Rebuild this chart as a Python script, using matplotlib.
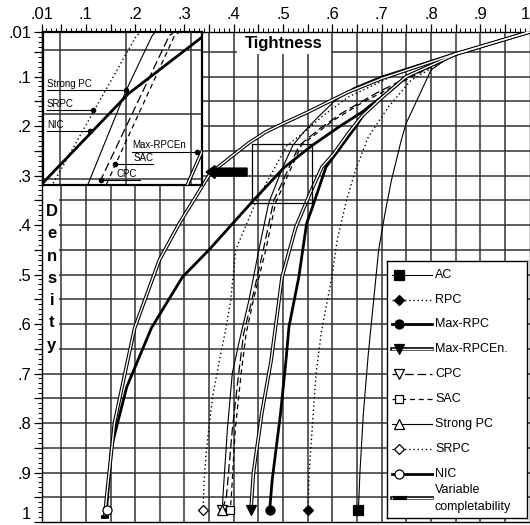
#!/usr/bin/env python3
"""Tightness vs density transition curves for several local consistencies."""

import matplotlib
matplotlib.use("Agg")
import matplotlib.pyplot as plt
import numpy as np
from matplotlib.patches import Rectangle, FancyArrow

plt.rcParams["font.family"] = ["Liberation Sans", "DejaVu Sans"]

# --- data: tightness (x) and density (y) per curve ---
ac_t = [1.0, .92, .835, .80, .775, .75, .74, .72, .708, .694, .684, .673, .663, .656, .653]
ac_d = [.01, .035, .062, .087, .141, .194, .228, .309, .37, .45, .55, .66, .78, .90, .975]

rpc_t = [1.0, .85, .76, .714, .673, .647, .629, .61, .599, .578, .567, .559, .553, .551]
rpc_d = [.01, .055, .107, .161, .222, .289, .349, .43, .505, .615, .70, .814, .90, .975]

maxrpc_t = [1.0, .85, .75, .72, .673, .647, .613, .587, .559, .548, .532, .512, .506, .495, .478, .473]
maxrpc_d = [.01, .055, .10, .127, .162, .202, .248, .283, .366, .396, .505, .606, .673, .78, .915, .975]

maxrpcen_t = [1.0, .85, .75, .70, .66, .633, .603, .579, .558, .542, .526, .498, .476, .457, .44, .435]
maxrpcen_d = [.01, .055, .10, .143, .18, .214, .256, .283, .329, .366, .404, .505, .673, .78, .90, .975]

cpc_t = [1.0, .85, .69, .619, .575, .533, .481, .46, .437, .42, .41, .397, .385, .377]
cpc_d = [.01, .053, .133, .174, .205, .239, .351, .45, .551, .62, .70, .814, .95, .975]

sac_t = [1.0, .85, .66, .60, .537, .485, .465, .44, .425, .415, .403, .395, .393]
sac_d = [.01, .055, .153, .19, .239, .355, .45, .551, .62, .70, .814, .95, .975]

strongpc_t = [1.0, .85, .698, .643, .603, .569, .542, .520, .500, .471, .451, .431, .41, .397, .387, .378, .377]
strongpc_d = [.01, .052, .10, .123, .151, .184, .212, .239, .282, .355, .45, .551, .64, .70, .814, .95, .975]

srpc_t = [1.0, .86, .72, .633, .58, .54, .508, .476, .444, .404, .394, .384, .371, .357, .345, .340, .338]
srpc_d = [.01, .05, .10, .141, .18, .215, .239, .297, .355, .45, .551, .61, .673, .747, .85, .915, .975]

nic_t = [1.0, .85, .75, .70, .66, .613, .558, .502, .441, .350, .296, .233, .183, .152, .142]
nic_d = [.01, .055, .10, .142, .172, .202, .240, .284, .349, .450, .505, .608, .727, .848, .975]

varcomp_t = [1.0, .85, .70, .633, .55, .50, .465, .431, .391, .352, .29, .249, .199, .185, .158, .142, .138]
varcomp_d = [.01, .054, .104, .131, .172, .195, .212, .234, .265, .296, .396, .471, .608, .673, .80, .95, .99]

labels = ["AC", "RPC", "Max-RPC", "Max-RPCEn.", "CPC", "SAC",
          "Strong PC", "SRPC", "NIC", "Variable completability"]
series_t = [ac_t, rpc_t, maxrpc_t, maxrpcen_t, cpc_t, sac_t,
            strongpc_t, srpc_t, nic_t, varcomp_t]
series_d = [ac_d, rpc_d, maxrpc_d, maxrpcen_d, cpc_d, sac_d,
            strongpc_d, srpc_d, nic_d, varcomp_d]

DOT = (0, (1, 2))
STYLES = [
    dict(lw=0.8, ls="-", marker="s", ms=6.5, mfc="k"),
    dict(lw=1.0, ls=DOT, marker="D", ms=5, mfc="k"),
    dict(lw=2.0, ls="-", marker="o", ms=6.5, mfc="k"),
    dict(double=True, marker="v", ms=7, mfc="k"),
    dict(lw=0.9, ls=(0, (7, 3)), marker="v", ms=6.5, mfc="white"),
    dict(lw=0.9, ls=(0, (4, 3)), marker="s", ms=6, mfc="white"),
    dict(lw=0.8, ls="-", marker="^", ms=6.5, mfc="white"),
    dict(lw=1.0, ls=DOT, marker="D", ms=5, mfc="white"),
    dict(lw=2.0, ls="-", marker="o", ms=6.5, mfc="white"),
    dict(double=True, marker="_", ms=5.5, mfc="k", mew=2.6),
]

W, H = 530, 525
GRID = "#333333"


def fig_box(x0, y0, x1, y1):
    # pixel box measured from the top-left -> figure fraction rect
    return [x0 / W, 1 - y1 / H, (x1 - x0) / W, (y1 - y0) / H]


def draw_curve(ax, t, d, st):
    if st.get("double"):
        ax.plot(t, d, color="k", lw=2.6, zorder=3)
        ax.plot(t, d, color="white", lw=1.0, zorder=3.1)
    else:
        ax.plot(t, d, color="k", lw=st["lw"], ls=st["ls"], zorder=3)
    ax.plot(t[-1], d[-1], ls="none", marker=st["marker"], ms=st["ms"],
            mfc=st["mfc"], mec="k", mew=st.get("mew", 0.9), zorder=5)


def tick_label(v):
    if abs(v - 0.01) < 1e-9:
        return ".01"
    if abs(v - 1.0) < 1e-9:
        return "1"
    if round(v * 100) % 10 == 0:
        return "." + str(int(round(v * 10)))
    return ""


fig = plt.figure(figsize=(W / 100, H / 100), dpi=100)

# main axes
ax = fig.add_axes(fig_box(41.5, 32, 529.5, 522))
ax.set_xlim(0.01, 1.0)
ax.set_ylim(1.0, 0.01)

major = [0.01] + list(np.round(np.arange(0.05, 1.0001, 0.05), 2))
minor = np.round(np.arange(0.01, 1.0001, 0.01), 2)
ax.set_xticks(major)
ax.set_xticklabels([tick_label(v) for v in major])
ax.set_yticks(major)
ax.set_yticklabels([tick_label(v) for v in major])
ax.set_xticks(minor, minor=True)
ax.set_yticks(minor, minor=True)
ax.xaxis.set_ticks_position("top")
ax.tick_params(axis="x", which="both", top=True, bottom=False,
               labeltop=True, labelbottom=False, direction="out")
ax.tick_params(axis="y", which="both", left=True, right=False, direction="out")
ax.tick_params(which="major", length=6, width=0.9, labelsize=12, pad=1.5)
ax.tick_params(which="minor", length=3, width=0.7)
# keep the two "1" labels inside the figure
ax.get_xticklabels()[-1].set_horizontalalignment("right")
ax.get_yticklabels()[-1].set_verticalalignment("bottom")
for s in ax.spines.values():
    s.set_linewidth(1.0)

for v in np.arange(0.05, 0.96, 0.05):
    ax.axvline(v, color=GRID, lw=1.1, zorder=1)
    ax.axhline(v, color=GRID, lw=1.1, zorder=1)

for t, d, st in zip(series_t, series_d, STYLES):
    draw_curve(ax, t, d, st)

# zoom rectangle and arrow toward the inset
ax.add_patch(Rectangle((0.437, 0.236), 0.121, 0.119, fill=False,
                       ec="k", lw=0.9, zorder=4))
ax.add_patch(FancyArrow(0.427, 0.293, -0.083, 0, width=0.016,
                        head_width=0.026, head_length=0.018,
                        length_includes_head=True, color="k", zorder=6))

# axis titles on white patches
ax.add_patch(Rectangle((0.407, 0.01), 0.19, 0.044, fc="white", ec="none", zorder=2))
ax.text(0.502, 0.033, "Tightness", ha="center", va="center",
        fontsize=12, fontweight="bold", zorder=6)
ax.add_patch(Rectangle((0.0105, 0.319), 0.036, 0.333, fc="white", ec="none", zorder=2))
for i, ch in enumerate("Density"):
    base_px = 216 + i * 22.3
    ax.text(0.031, (base_px - 32) / 495 + 0.01, ch, ha="center", va="baseline",
            fontsize=12, fontweight="bold", zorder=6)

# inset: magnified view of the rectangle
axin = fig.add_axes(fig_box(43, 32, 202, 185))
axin.set_xlim(0.437, 0.558)
axin.set_ylim(0.355, 0.236)
axin.set_xticks([])
axin.set_yticks([])
for s in axin.spines.values():
    s.set_linewidth(1.6)
for v in (0.45, 0.5, 0.55):
    axin.axvline(v, color=GRID, lw=1.1, zorder=1)
for v in (0.25, 0.3, 0.35):
    axin.axhline(v, color=GRID, lw=1.1, zorder=1)
for t, d, st in zip(series_t, series_d, STYLES):
    draw_curve(axin, t, d, st)

inset_tags = [
    ("Strong PC", 0.440, 0.440, 0.500, 0.281, 0.500),
    ("SRPC", 0.440, 0.440, 0.475, 0.297, 0.475),
    ("NIC", 0.440, 0.440, 0.473, 0.313, 0.473),
    ("Max-RPCEn", 0.505, 0.505, 0.554, 0.329, 0.554),
    ("SAC", 0.506, 0.492, 0.521, 0.339, 0.492),
    ("CPC", 0.493, 0.481, 0.511, 0.351, 0.481),
]
for name, tx, x0, x1, y, xd in inset_tags:
    axin.plot([x0, x1], [y, y], color="k", lw=0.8, zorder=6)
    axin.plot(xd, y, "o", color="k", ms=3, zorder=7)
    axin.text(tx, y - 0.001, name, fontsize=7, ha="left", va="bottom", zorder=7)

# legend box drawn by hand (pixel units inside the box)
lg = fig.add_axes(fig_box(387, 261, 527, 518))
lg.set_xlim(0, 140)
lg.set_ylim(257, 0)
lg.set_xticks([])
lg.set_yticks([])
for s in lg.spines.values():
    s.set_linewidth(1.0)
rows = [14, 39, 63, 88, 113, 138, 163, 188, 213, 237]
for y, st, name in zip(rows, STYLES, labels):
    if st.get("double"):
        lg.plot([5, 45], [y, y], color="k", lw=2.6)
        lg.plot([5, 45], [y, y], color="white", lw=1.0)
    else:
        lg.plot([5, 45], [y, y], color="k", lw=st["lw"], ls=st["ls"])
    if st["marker"] == "_":
        lg.plot([6, 20], [y, y], color="k", lw=3, solid_capstyle="butt")
        lg.text(48, 229, "Variable", fontsize=9, va="center")
        lg.text(48, 246, "completability", fontsize=9, va="center")
    else:
        lg.plot(12, y, ls="none", marker=st["marker"], ms=st["ms"],
                mfc=st["mfc"], mec="k", mew=0.9)
        lg.text(48, y, name, fontsize=9, va="center")

fig.savefig("out.png", dpi=100)
